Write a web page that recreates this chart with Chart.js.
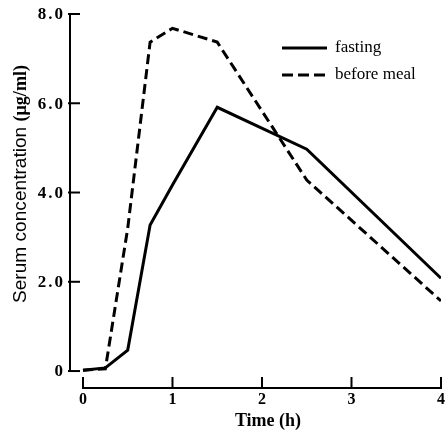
<!DOCTYPE html>
<html>
<head>
<meta charset="utf-8">
<script src="https://cdn.jsdelivr.net/npm/chart.js@4"></script>
<style>
  html, body { margin: 0; padding: 0; background: #fff; }
  #wrap { width: 448px; height: 432px; }
</style>
</head>
<body>
<div id="wrap"><canvas id="chart" width="448" height="432"></canvas></div>
<script>
// values
const times = [0, 0.25, 0.5, 0.75, 1, 1.5, 2.5, 4];
const fasting = [0.02, 0.07, 0.47, 3.27, 4.17, 5.91, 4.97, 2.08];
const beforeMeal = [0.02, 0.05, 3.2, 7.37, 7.68, 7.37, 4.28, 1.57];
const seriesNames = ["fasting", "before meal"];
const xTicks = [0, 1, 2, 3, 4];
const yTicks = [0, 2, 4, 6, 8];
const yTickLabels = ["0", "2.0", "4.0", "6.0", "8.0"];

const toPts = (ys) => times.map((t, i) => ({ x: t, y: ys[i] }));

const axesPlugin = {
  id: "axesPlugin",
  afterDraw(chart) {
    const ctx = chart.ctx;
    const xs = chart.scales.x, ys = chart.scales.y;
    const x0 = xs.getPixelForValue(0), x4 = xs.getPixelForValue(4);
    const yAxisX = chart.chartArea.left;
    const xAxisY = chart.chartArea.bottom;
    ctx.save();
    ctx.strokeStyle = "#000";
    ctx.fillStyle = "#000";
    ctx.lineWidth = 2;
    ctx.lineCap = "butt";

    // y axis
    ctx.beginPath();
    ctx.moveTo(yAxisX, ys.getPixelForValue(8) - 1);
    ctx.lineTo(yAxisX, ys.getPixelForValue(0) + 1);
    ctx.stroke();
    yTicks.forEach((v) => {
      const py = ys.getPixelForValue(v);
      ctx.beginPath();
      ctx.moveTo(yAxisX - 2, py);
      ctx.lineTo(yAxisX + 10, py);
      ctx.stroke();
    });

    // x axis
    ctx.beginPath();
    ctx.moveTo(x0 - 1, xAxisY);
    ctx.lineTo(x4 + 1, xAxisY);
    ctx.stroke();
    xTicks.forEach((v) => {
      const px = xs.getPixelForValue(v);
      ctx.beginPath();
      ctx.moveTo(px, xAxisY);
      ctx.lineTo(px, xAxisY - 11);
      ctx.stroke();
    });

    // tick labels
    ctx.font = 'bold 17px "Liberation Serif"';
    ctx.letterSpacing = "2px";
    ctx.textAlign = "right";
    ctx.textBaseline = "middle";
    yTicks.forEach((v, i) => {
      ctx.fillText(yTickLabels[i], yAxisX - 5, ys.getPixelForValue(v) + 1);
    });
    ctx.letterSpacing = "0px";
    ctx.textAlign = "center";
    ctx.font = 'bold 16px "Liberation Serif"';
    xTicks.forEach((v) => {
      ctx.fillText(String(v), xs.getPixelForValue(v), xAxisY + 12);
    });

    // x title
    ctx.font = 'bold 18px "Liberation Serif"';
    ctx.fillText("Time (h)", 268, 421);

    // y title, rotated, squeezed to the reference length
    ctx.save();
    ctx.translate(21, 184);
    ctx.rotate(-Math.PI / 2);
    const partA = "Serum concentration ";
    const partB = "(\u03bcg/ml)";
    const fontA = '19px "Liberation Sans"';
    const fontB = 'bold 18px "Liberation Serif"';
    ctx.font = fontA;
    const wA = ctx.measureText(partA).width;
    ctx.font = fontB;
    const wB = ctx.measureText(partB).width;
    ctx.scale(238 / (wA + wB), 1);
    const start = -(wA + wB) / 2;
    ctx.textAlign = "left";
    ctx.font = fontA;
    ctx.fillText(partA, start, 0);
    ctx.font = fontB;
    ctx.fillText(partB, start + wA, 0);
    ctx.restore();

    // legend
    chart.data.datasets.forEach((ds, i) => {
      const ly = 48 + i * 27;
      ctx.beginPath();
      ctx.lineWidth = 3;
      ctx.setLineDash(ds.borderDash ? [11, 5] : []);
      ctx.moveTo(282, ly);
      ctx.lineTo(327, ly);
      ctx.stroke();
      ctx.setLineDash([]);
      ctx.font = '17px "Liberation Serif"';
      ctx.textAlign = "left";
      ctx.textBaseline = "middle";
      ctx.fillText(ds.label, 335, ly);
    });
    ctx.restore();
  }
};

new Chart(document.getElementById("chart"), {
  type: "line",
  data: {
    datasets: [
      {
        label: seriesNames[0],
        data: toPts(fasting),
        borderColor: "#000",
        borderWidth: 3,
        pointRadius: 0,
        tension: 0
      },
      {
        label: seriesNames[1],
        data: toPts(beforeMeal),
        borderColor: "#000",
        borderWidth: 3,
        borderDash: [10, 5],
        pointRadius: 0,
        tension: 0
      }
    ]
  },
  options: {
    animation: false,
    responsive: false,
    layout: { padding: { left: 70, right: 7, top: 14, bottom: 44 } },
    plugins: { legend: { display: false }, tooltip: { enabled: false } },
    scales: {
      x: { type: "linear", min: -0.145, max: 4, display: false },
      y: { type: "linear", min: -0.38, max: 8, display: false }
    }
  },
  plugins: [axesPlugin]
});
</script>
</body>
</html>
